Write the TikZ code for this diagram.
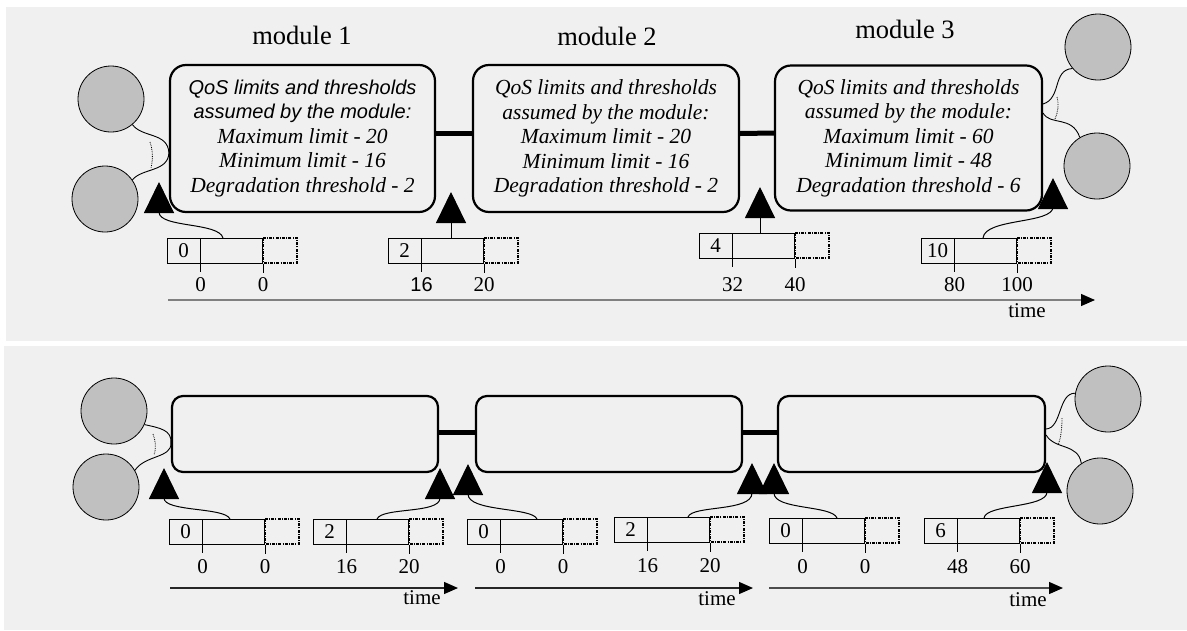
\documentclass[tikz,border=0pt]{standalone}
\usepackage{fontspec}
\setmainfont{Liberation Serif}
\newfontfamily\arialf{Liberation Sans}
\usetikzlibrary{arrows.meta,calc}
\definecolor{panel}{HTML}{F0F0F0}
\definecolor{ballc}{HTML}{C0C0C0}
% #1 name, #2 x left, #3 y top, #4 count, #5 left label, #6 right label, #7 label y
\newcommand\qbuf[7]{%
 \node[bufbox] (#1) at (#2,#3) {};
 \node[numtxt] (#1c) at ($(#1.north west)+(16.5,12.5)$) {#4};
 \draw[thinln] ($(#1.north west)+(33.5,0)$) coordinate (#1d) -- ++(0,34) coordinate (#1dt);
 \draw[thinln] (#1.south east) -- ++(0,9) coordinate (#1et);
 \draw[dashbuf] (#1.north east) rectangle ++(34,25);
 \node[numtxt] (#1l) at (#1dt |- 0,#7) {#5};
 \node[numtxt] (#1r) at (#1et |- 0,#7) {#6};
}
\begin{document}
\begin{tikzpicture}[x=1pt,y=-1pt,
 modbox/.style={draw, line width=2.2pt, rounded corners=16pt, align=center, inner sep=0pt,
   font=\fontsize{21.5}{24.5}\selectfont\itshape},
 modbox2/.style={draw, line width=2.2pt, rounded corners=11pt, inner sep=0pt,
   minimum width=266pt, minimum height=76pt},
 ball/.style={circle, draw, line width=0.8pt, fill=ballc, minimum size=66pt, inner sep=0pt},
 bufbox/.style={draw, line width=1pt, minimum width=95pt, minimum height=25pt, inner sep=0pt, anchor=north west},
 numtxt/.style={font=\fontsize{21}{23}\selectfont, inner sep=0pt},
 thinln/.style={line width=1pt},
 dashbuf/.style={line width=1.2pt, dash pattern=on 3pt off 1.2pt on 1pt off 1.2pt},
 link/.style={line width=5pt},
 wire/.style={line width=0.9pt},
 dotw/.style={line width=0.8pt, densely dotted},
 upar/.style={line width=1pt, -{Triangle[width=30pt,length=31pt]}},
 timeax/.style={line width=1.3pt, -{Triangle[width=12pt,length=14pt,color=black]}},
 title/.style={font=\fontsize{26.5}{28}\selectfont, inner sep=0pt}
]
\useasboundingbox (0,0) rectangle (1187,630);
\fill[white] (0,0) rectangle (1187,630);
\fill[panel] (6,7) rectangle (1187,341);
\fill[panel] (4,346) rectangle (1187,630);

% ---------- top panel ----------
\node[title] (t1) at (302,35) {module 1};
\node[title] (t2) at (607,36) {module 2};
\node[title] (t3) at (905,29) {module 3};

\node[modbox, minimum width=265pt, minimum height=147pt] (m1) at (302.5,138.5)
 {{\arialf\fontsize{20}{24.5}\selectfont QoS limits and thresholds}\\
  {\arialf\fontsize{20}{24.5}\selectfont assumed by the module:}\\
  Maximum limit - 20\\Minimum limit - 16\\Degradation threshold - 2};
\node[modbox, minimum width=266pt, minimum height=147pt] (m2) at (606,138.5)
 {QoS limits and thresholds\\assumed by the module:\\Maximum limit - 20\\Minimum limit - 16\\Degradation threshold - 2};
\node[modbox, minimum width=267pt, minimum height=145pt] (m3) at (908.5,138)
 {QoS limits and thresholds\\assumed by the module:\\Maximum limit - 60\\Minimum limit - 48\\Degradation threshold - 6};

\draw[link] ([yshift=5.5pt]m1.east) -- ([yshift=5.5pt]m2.west);
\draw[link] ([yshift=5pt]m2.east) -- ([yshift=5pt]m3.west);

\node[ball] (c1) at (111,99) {};
\node[ball] (c2) at (105,199) {};
\node[ball] (c3) at (1098,47) {};
\node[ball] (c4) at (1097,166) {};

\draw[wire] (c1.-50) .. controls (142,138) and (168,132) .. ([yshift=-14.5pt]m1.west)
  .. controls (168,172) and (142,168) .. (c2.35);
\draw[dotw] (150,142) .. controls (153,150) and (153,160) .. (151,168);
\draw[wire] ([yshift=34pt]m3.east) .. controls (1062,98) and (1052,70) .. (c3.-140);
\draw[wire] ([yshift=25pt]m3.east) .. controls (1050,126) and (1072,115) .. (c4.121);
\draw[dotw] (1057,97) .. controls (1059,105) and (1058,112) .. (1055,119);

\qbuf{B1}{167}{238}{0}{0}{0}{285}
\qbuf{B2}{388}{238}{2}{\arialf\fontsize{20}{22}\selectfont 16}{20}{285}
\qbuf{B3}{699}{233}{4}{32}{40}{285}
\qbuf{B4}{921}{238}{10}{80}{100}{285}

\coordinate (tA1) at (159,182);
\coordinate (tA2) at (451,192);
\coordinate (tA3) at (760,187);
\coordinate (tA4) at (1053,178);
\draw[upar] ($(B1.north west)+(56,0)$) .. controls (219,222) and (159,228) .. (159,212) -- (tA1);
\draw[upar] ($(B2.north west)+(63,0)$) -- (tA2);
\draw[upar] ($(B3.north west)+(61,0)$) -- (tA3);
\draw[upar] ($(B4.north west)+(62,0)$) .. controls (985,218) and (1053,224) .. (1053,207) -- (tA4);

\coordinate (ax0) at (168,300);
\coordinate (ax1) at (1095,300);
\draw[timeax, draw=black!50] (ax0) -- (ax1);
\node[numtxt] (tm0) at (1027,311) {time};

% ---------- bottom panel ----------
\node[modbox2] (n1) at (305,434) {};
\node[modbox2] (n2) at (609,434) {};
\node[modbox2, minimum width=267pt] (n3) at (911.5,434) {};
\draw[link] ([yshift=2pt]n1.east) -- ([yshift=2pt]n2.west);
\draw[link] ([yshift=2pt]n2.east) -- ([yshift=2pt]n3.west);

\node[ball] (c5) at (114,411) {};
\node[ball] (c6) at (106,487) {};
\node[ball] (c7) at (1108,399) {};
\node[ball] (c8) at (1100,491) {};

\draw[wire] (c5.-24) .. controls (160,428) and (172,430) .. ([yshift=-9pt]n1.west)
  .. controls (172,458) and (145,455) .. (c6.30);
\draw[dotw] (153,434) .. controls (156,442) and (156,450) .. (154,455);
\draw[wire] ([yshift=5pt]n3.east) .. controls (1062,428) and (1058,393) .. (c7.170);
\draw[wire] ([yshift=-1pt]n3.east) .. controls (1055,450) and (1078,443) .. (c8.124);
\draw[dotw] (1062,418) .. controls (1062,428) and (1061,438) .. (1058,445);

\qbuf{b1}{169}{519}{0}{0}{0}{567}
\qbuf{b2}{313}{519}{2}{16}{20}{567}
\qbuf{b3}{467}{519}{0}{0}{0}{567}
\qbuf{b4}{614}{517}{2}{16}{20}{566}
\qbuf{b5}{769}{518}{0}{0}{0}{567}
\qbuf{b6}{924}{518}{6}{48}{60}{567}

\coordinate (tb1) at (164,468);
\coordinate (tb2) at (440,468);
\coordinate (tb3) at (468,464);
\coordinate (tb4) at (752,463);
\coordinate (tb5) at (774,463);
\coordinate (tb6) at (1047,462);
\draw[upar] ($(b1.north west)+(61,0)$) .. controls (225,507) and (164,512) .. (164,498) -- (tb1);
\draw[upar] ($(b2.north west)+(64,0)$) .. controls (382,507) and (440,514) .. (440,498) -- (tb2);
\draw[upar] ($(b3.north west)+(70,0)$) .. controls (532,507) and (468,512) .. (468,494) -- (tb3);
\draw[upar] ($(b4.north west)+(74,0)$) .. controls (692,505) and (752,512) .. (752,493) -- (tb4);
\draw[upar] ($(b5.north west)+(68,0)$) .. controls (832,505) and (774,510) .. (774,493) -- (tb5);
\draw[upar] ($(b6.north west)+(60,0)$) .. controls (986,504) and (1047,508) .. (1047,492) -- (tb6);

\coordinate (bx0) at (170,588);
\coordinate (bx1) at (458,588);
\coordinate (bx2) at (475,588);
\coordinate (bx3) at (753,588);
\coordinate (bx4) at (769,588);
\coordinate (bx5) at (1063,588);
\draw[timeax, draw=black!85] (bx0) -- (bx1);
\draw[timeax, draw=black!85] (bx2) -- (bx3);
\draw[timeax, draw=black!70] (bx4) -- (bx5);
\node[numtxt] (tm1) at (422,598) {time};
\node[numtxt] (tm2) at (717,599) {time};
\node[numtxt] (tm3) at (1028,600) {time};
\end{tikzpicture}
\end{document}
